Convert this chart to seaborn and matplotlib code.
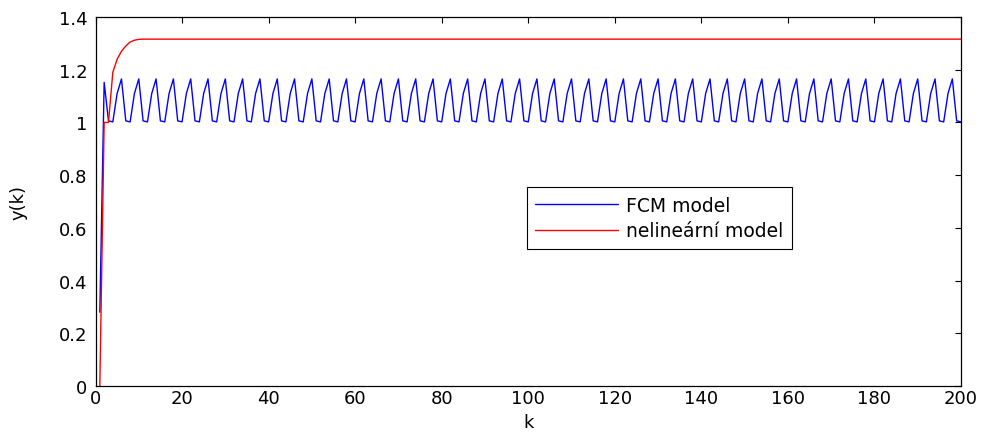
import matplotlib
import numpy as np
import pandas as pd
import seaborn as sns
from matplotlib import pyplot as plt
matplotlib.use("Agg")

# values, k = 1..200
k_values = list(range(1, 201))

fcm_y = [
    0.28, 1.152, 1.006, 1.002, 1.11, 1.165, 1.006, 1.002, 1.11, 1.165, 1.006, 1.002, 1.11, 1.165, 1.006, 1.002, 1.11, 1.165, 1.006, 1.002,
    1.11, 1.165, 1.006, 1.002, 1.11, 1.165, 1.006, 1.002, 1.11, 1.165, 1.006, 1.002, 1.11, 1.165, 1.006, 1.002, 1.11, 1.165, 1.006, 1.002,
    1.11, 1.165, 1.006, 1.002, 1.11, 1.165, 1.006, 1.002, 1.11, 1.165, 1.006, 1.002, 1.11, 1.165, 1.006, 1.002, 1.11, 1.165, 1.006, 1.002,
    1.11, 1.165, 1.006, 1.002, 1.11, 1.165, 1.006, 1.002, 1.11, 1.165, 1.006, 1.002, 1.11, 1.165, 1.006, 1.002, 1.11, 1.165, 1.006, 1.002,
    1.11, 1.165, 1.006, 1.002, 1.11, 1.165, 1.006, 1.002, 1.11, 1.165, 1.006, 1.002, 1.11, 1.165, 1.006, 1.002, 1.11, 1.165, 1.006, 1.002,
    1.11, 1.165, 1.006, 1.002, 1.11, 1.165, 1.006, 1.002, 1.11, 1.165, 1.006, 1.002, 1.11, 1.165, 1.006, 1.002, 1.11, 1.165, 1.006, 1.002,
    1.11, 1.165, 1.006, 1.002, 1.11, 1.165, 1.006, 1.002, 1.11, 1.165, 1.006, 1.002, 1.11, 1.165, 1.006, 1.002, 1.11, 1.165, 1.006, 1.002,
    1.11, 1.165, 1.006, 1.002, 1.11, 1.165, 1.006, 1.002, 1.11, 1.165, 1.006, 1.002, 1.11, 1.165, 1.006, 1.002, 1.11, 1.165, 1.006, 1.002,
    1.11, 1.165, 1.006, 1.002, 1.11, 1.165, 1.006, 1.002, 1.11, 1.165, 1.006, 1.002, 1.11, 1.165, 1.006, 1.002, 1.11, 1.165, 1.006, 1.002,
    1.11, 1.165, 1.006, 1.002, 1.11, 1.165, 1.006, 1.002, 1.11, 1.165, 1.006, 1.002, 1.11, 1.165, 1.006, 1.002, 1.11, 1.165, 1.006, 1.002,
]

nonlin_y = [
    0.0, 1.0, 1.0, 1.19, 1.24, 1.27, 1.29, 1.305, 1.312, 1.315, 1.316, 1.316, 1.316, 1.316, 1.316, 1.316, 1.316, 1.316, 1.316, 1.316,
    1.316, 1.316, 1.316, 1.316, 1.316, 1.316, 1.316, 1.316, 1.316, 1.316, 1.316, 1.316, 1.316, 1.316, 1.316, 1.316, 1.316, 1.316, 1.316, 1.316,
    1.316, 1.316, 1.316, 1.316, 1.316, 1.316, 1.316, 1.316, 1.316, 1.316, 1.316, 1.316, 1.316, 1.316, 1.316, 1.316, 1.316, 1.316, 1.316, 1.316,
    1.316, 1.316, 1.316, 1.316, 1.316, 1.316, 1.316, 1.316, 1.316, 1.316, 1.316, 1.316, 1.316, 1.316, 1.316, 1.316, 1.316, 1.316, 1.316, 1.316,
    1.316, 1.316, 1.316, 1.316, 1.316, 1.316, 1.316, 1.316, 1.316, 1.316, 1.316, 1.316, 1.316, 1.316, 1.316, 1.316, 1.316, 1.316, 1.316, 1.316,
    1.316, 1.316, 1.316, 1.316, 1.316, 1.316, 1.316, 1.316, 1.316, 1.316, 1.316, 1.316, 1.316, 1.316, 1.316, 1.316, 1.316, 1.316, 1.316, 1.316,
    1.316, 1.316, 1.316, 1.316, 1.316, 1.316, 1.316, 1.316, 1.316, 1.316, 1.316, 1.316, 1.316, 1.316, 1.316, 1.316, 1.316, 1.316, 1.316, 1.316,
    1.316, 1.316, 1.316, 1.316, 1.316, 1.316, 1.316, 1.316, 1.316, 1.316, 1.316, 1.316, 1.316, 1.316, 1.316, 1.316, 1.316, 1.316, 1.316, 1.316,
    1.316, 1.316, 1.316, 1.316, 1.316, 1.316, 1.316, 1.316, 1.316, 1.316, 1.316, 1.316, 1.316, 1.316, 1.316, 1.316, 1.316, 1.316, 1.316, 1.316,
    1.316, 1.316, 1.316, 1.316, 1.316, 1.316, 1.316, 1.316, 1.316, 1.316, 1.316, 1.316, 1.316, 1.316, 1.316, 1.316, 1.316, 1.316, 1.316, 1.316,
]

series_names = ['FCM model', 'nelineární model']
series_colors = ['#0000ff', '#ff0000']
x_ticks = [0, 20, 40, 60, 80, 100, 120, 140, 160, 180, 200]
y_ticks = [0, 0.2, 0.4, 0.6, 0.8, 1, 1.2, 1.4]
y_tick_labels = ['0', '0.2', '0.4', '0.6', '0.8', '1', '1.2', '1.4']

df = pd.DataFrame({
    'k': k_values + k_values,
    'y': fcm_y + nonlin_y,
    'model': [series_names[0]] * len(k_values) + [series_names[1]] * len(k_values),
})

sns.set_style('white')
plt.rcParams['font.family'] = ['DejaVu Sans']
plt.rcParams['text.color'] = 'black'
plt.rcParams['axes.labelcolor'] = 'black'

fig = plt.figure(figsize=(9.88, 4.35), dpi=100)
ax = fig.add_axes([95.5 / 988, 48 / 435, 865.5 / 988, 369 / 435])

params = dict(x='k', y='y', data=df, hue='model', hue_order=series_names,
              palette=dict(zip(series_names, series_colors)), lw=1.0, ax=ax)
sns.lineplot(**params)

ax.set_xlim(0, 200)
ax.set_ylim(0, 1.4)
ax.set_xticks(x_ticks)
ax.set_xticklabels([str(t) for t in x_ticks])
ax.set_yticks(y_ticks)
ax.set_yticklabels(y_tick_labels)
ax.tick_params(axis='both', direction='in', length=4, width=0.8, colors='black',
               labelsize=13, top=True, right=True)
ax.tick_params(axis='x', pad=2.5)
ax.tick_params(axis='y', pad=6)
for s in ax.spines.values():
    s.set_color('black')
    s.set_linewidth(0.9)

ax.set_xlabel('k', fontsize=13, labelpad=4)
ax.set_ylabel('y(k)', fontsize=13, labelpad=22)

handles, labels = ax.get_legend_handles_labels()
leg = ax.legend(handles, labels, loc='upper left', bbox_to_anchor=(0.4985, 0.539),
                borderaxespad=0, fontsize=13.5, handlelength=4.4, handletextpad=0.45,
                labelspacing=0.35, borderpad=0.45, fancybox=False, framealpha=1,
                edgecolor='black')
leg.get_frame().set_linewidth(0.8)

fig.savefig('out.png', dpi=100)
